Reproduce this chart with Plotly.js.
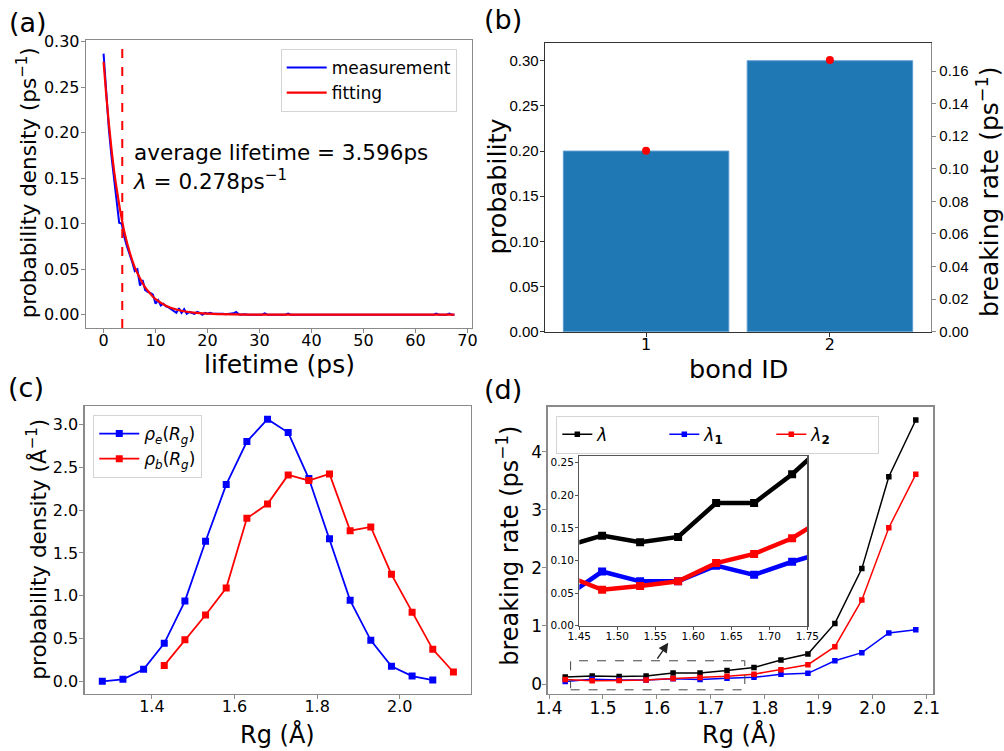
<!DOCTYPE html>
<html>
<head>
<meta charset="utf-8">
<script src="https://cdn.plot.ly/plotly-3.0.1.min.js"></script>
<style>html,body{margin:0;padding:0;background:#fff;}#chart{width:1004px;height:751px;}</style>
</head>
<body>
<div id="chart"></div>
<script>
// ---------- (a) lifetime distribution ----------
const lifetimeMeas = [0,0.5,1,1.5,2,2.5,3,3.5,4,4.5,5,5.5,6,6.5,7,7.5,8,8.5,9,9.5,10,10.5,11,11.5,12,12.5,13,13.5,14,14.5,15,15.5,16,16.5,17,17.5,18,18.5,19,19.5,20,20.5,21,21.5,22,22.5,23,23.5,24,24.5,25,25.5,26,26.5,27,28,30.5,31,31.5,35,35.5,36,63.5,64,64.5,66,66.5,67,67.5];
const densityMeas  = [0.287,0.245,0.205,0.175,0.150,0.122,0.101,0.100,0.085,0.075,0.065,0.058,0.048,0.050,0.032,0.038,0.027,0.025,0.024,0.022,0.012,0.016,0.010,0.012,0.009,0.008,0.006,0.004,0.002,0.007,0.002,0.006,0.001,0.003,0.002,0.001,0.003,0.002,0.000,0.002,0.001,0.002,0.001,0.001,0.0015,0.001,0.001,0.0005,0.001,0.001,0.0015,0.003,0.0005,0.0,0.0005,0.0,0.0,0.0015,0.0,0.0,0.0012,0.0,0.0,0.0012,0.0,0.0,0.0012,0.0,0.0];
const lifetimeFit = [0,0.5,1,1.5,2,2.5,3,3.5,4,5,6,7,8,9,10,12,14,16,18,20,25,30,40,50,67.5];
const densityFit  = [0.278,0.242,0.211,0.183,0.159,0.139,0.121,0.105,0.091,0.069,0.052,0.040,0.030,0.023,0.017,0.0099,0.0057,0.0032,0.0019,0.0011,0.0003,0.0001,0.0,0.0,0.0];
const avgLifetime = 3.596;

// ---------- (b) bonds ----------
const bondIDs = [1, 2];
const bondProbability = [0.20, 0.30];
const bondBreakingRate = [0.1111, 0.1667];

// ---------- (c) Rg distributions ----------
const rgE = [1.28,1.33,1.38,1.43,1.48,1.53,1.58,1.63,1.68,1.73,1.78,1.83,1.88,1.93,1.98,2.03,2.08];
const rhoE = [0.004,0.027,0.144,0.447,0.940,1.636,2.297,2.798,3.059,2.903,2.367,1.667,0.948,0.482,0.179,0.066,0.019];
const rgB = [1.43,1.48,1.53,1.58,1.63,1.68,1.73,1.78,1.83,1.88,1.93,1.98,2.03,2.08,2.13];
const rhoB = [0.190,0.490,0.777,1.092,1.904,2.070,2.410,2.344,2.421,1.760,1.803,1.251,0.808,0.377,0.113];

// ---------- (d) breaking rates vs Rg ----------
const rgD = [1.43,1.48,1.53,1.58,1.63,1.68,1.73,1.78,1.83,1.88,1.93,1.98,2.03,2.08];
const lambdaTot = [0.121,0.138,0.128,0.136,0.188,0.188,0.232,0.285,0.413,0.517,1.043,1.987,3.568,4.546];
const lambda1   = [0.043,0.083,0.068,0.068,0.092,0.078,0.098,0.115,0.166,0.184,0.400,0.540,0.878,0.936];
const lambda2   = [0.078,0.055,0.061,0.068,0.096,0.110,0.134,0.170,0.247,0.333,0.643,1.447,2.690,3.610];
const zoomBox = {x0: 1.44, x1: 1.763, y0: -0.10, y1: 0.40};
const arrowTail = [1.599, 0.41], arrowHead = [1.621, 0.71];

const FONT = 'DejaVu Sans';
const SPINE = '#8a8a8a';

function axisBase(extra) {
  return Object.assign({
    showline: true, mirror: true, linecolor: SPINE, linewidth: 1.3,
    ticks: 'outside', ticklen: 4, tickwidth: 1, tickcolor: SPINE,
    showgrid: false, zeroline: false, automargin: false, fixedrange: true,
    tickfont: {family: FONT, size: 16, color: '#000'}
  }, extra);
}

const traces = [
  // (a)
  {x: lifetimeMeas, y: densityMeas, xaxis: 'x', yaxis: 'y', type: 'scatter', mode: 'lines',
   name: 'measurement', line: {color: '#0000ff', width: 2}, legend: 'legend'},
  {x: lifetimeFit, y: densityFit, xaxis: 'x', yaxis: 'y', type: 'scatter', mode: 'lines',
   name: 'fitting', line: {color: '#ff0000', width: 2.2, shape: 'spline'}, legend: 'legend'},
  // (b)
  {x: bondIDs, y: bondProbability, xaxis: 'x2', yaxis: 'y2', type: 'bar', width: 0.9,
   marker: {color: '#1f77b4', line: {color: '#5a9bd0', width: 1}}, showlegend: false},
  {x: bondIDs, y: bondBreakingRate, xaxis: 'x2', yaxis: 'y3', type: 'scatter', mode: 'markers',
   marker: {color: '#ff0000', size: 8}, showlegend: false},
  // (c)
  {x: rgE, y: rhoE, xaxis: 'x3', yaxis: 'y4', type: 'scatter', mode: 'lines+markers',
   name: '<i>ρ</i><sub><i>e</i></sub>(<i>R</i><sub><i>g</i></sub>)',
   line: {color: '#0000ff', width: 1.8}, marker: {symbol: 'square', size: 7, color: '#0000ff'}, legend: 'legend2'},
  {x: rgB, y: rhoB, xaxis: 'x3', yaxis: 'y4', type: 'scatter', mode: 'lines+markers',
   name: '<i>ρ</i><sub><i>b</i></sub>(<i>R</i><sub><i>g</i></sub>)',
   line: {color: '#ff0000', width: 1.8}, marker: {symbol: 'square', size: 7, color: '#ff0000'}, legend: 'legend2'},
  // (d)
  {x: rgD, y: lambdaTot, xaxis: 'x4', yaxis: 'y5', type: 'scatter', mode: 'lines+markers',
   name: '<i>λ</i>', line: {color: '#000000', width: 1.5}, marker: {symbol: 'square', size: 5.5, color: '#000'}, legend: 'legend3'},
  {x: rgD, y: lambda1, xaxis: 'x4', yaxis: 'y5', type: 'scatter', mode: 'lines+markers',
   name: '<i>λ</i><sub><b>1</b></sub>', line: {color: '#0000ff', width: 1.5}, marker: {symbol: 'square', size: 5.5, color: '#0000ff'}, legend: 'legend3'},
  {x: rgD, y: lambda2, xaxis: 'x4', yaxis: 'y5', type: 'scatter', mode: 'lines+markers',
   name: '<i>λ</i><sub><b>2</b></sub>', line: {color: '#ff0000', width: 1.5}, marker: {symbol: 'square', size: 5.5, color: '#ff0000'}, legend: 'legend3'},
  // inset
  {x: rgD, y: lambdaTot, xaxis: 'x5', yaxis: 'y6', type: 'scatter', mode: 'lines+markers',
   line: {color: '#000000', width: 4.5}, marker: {symbol: 'square', size: 8, color: '#000'}, showlegend: false, cliponaxis: true},
  {x: rgD, y: lambda1, xaxis: 'x5', yaxis: 'y6', type: 'scatter', mode: 'lines+markers',
   line: {color: '#0000ff', width: 4.5}, marker: {symbol: 'square', size: 8, color: '#0000ff'}, showlegend: false, cliponaxis: true},
  {x: rgD, y: lambda2, xaxis: 'x5', yaxis: 'y6', type: 'scatter', mode: 'lines+markers',
   line: {color: '#ff0000', width: 4.5}, marker: {symbol: 'square', size: 8, color: '#ff0000'}, showlegend: false, cliponaxis: true}
];

function ann(text, x, y, size, opts) {
  return Object.assign({text: text, x: x, y: y, xref: 'paper', yref: 'paper', showarrow: false,
    font: {family: FONT, size: size, color: '#000'}, xanchor: 'center', yanchor: 'middle', borderpad: 0}, opts || {});
}

const legendStyle = {bgcolor: 'rgba(255,255,255,0.9)', bordercolor: '#d4d4d4', borderwidth: 1,
  font: {family: FONT, size: 17, color: '#000'}, xanchor: 'left', yanchor: 'top'};

const XSO = -6, YSO = -2;

const layout = {
  width: 1004, height: 751,
  margin: {l: 0, r: 0, t: 0, b: 0},
  paper_bgcolor: '#fff', plot_bgcolor: '#fff',
  font: {family: FONT, color: '#000'},
  showlegend: true,
  // (a)
  xaxis: axisBase({domain: [0.0857, 0.4701], anchor: 'y', range: [-3.375, 70.875], dtick: 10, tick0: 0, ticklabelstandoff: XSO}),
  yaxis: axisBase({domain: [0.5633, 0.9467], anchor: 'x', range: [-0.0146, 0.3019], dtick: 0.05, tick0: 0, tickformat: '.2f', ticklabelstandoff: YSO}),
  // (b)
  xaxis2: axisBase({domain: [0.5428, 0.9273], anchor: 'y2', range: [0.45, 2.55], tickvals: bondIDs, linecolor: '#333', tickcolor: '#333', ticklabelstandoff: XSO}),
  yaxis2: axisBase({domain: [0.5583, 0.9423], anchor: 'x2', range: [0, 0.3193], dtick: 0.05, tick0: 0, tickformat: '.2f', mirror: false,
    linecolor: '#333', tickcolor: '#333', ticklabelstandoff: YSO, tickfont: {family: 'Liberation Sans', size: 15, color: '#000'}}),
  yaxis3: axisBase({anchor: 'x2', overlaying: 'y2', side: 'right', range: [0, 0.177], dtick: 0.02, tick0: 0, tickformat: '.2f', mirror: false,
    linecolor: '#8a8a8a', tickfont: {family: 'Liberation Sans', size: 15, color: '#000'}}),
  // (c)
  xaxis3: axisBase({domain: [0.0844, 0.4691], anchor: 'y4', range: [1.2375, 2.1725], dtick: 0.2, tick0: 1.4, tickformat: '.1f', ticklabelstandoff: XSO}),
  yaxis4: axisBase({domain: [0.0763, 0.4594], anchor: 'x3', range: [-0.14, 3.213], dtick: 0.5, tick0: 0, tickformat: '.1f', ticklabelstandoff: YSO}),
  // (d)
  xaxis4: axisBase({domain: [0.5455, 0.9296], anchor: 'y5', range: [1.3975, 2.1125], dtick: 0.1, tick0: 1.4, tickformat: '.1f', ticklabelstandoff: XSO,
    tickfont: {family: FONT, size: 17, color: '#000'}}),
  yaxis5: axisBase({domain: [0.0759, 0.4585], anchor: 'x4', range: [-0.172, 4.775], dtick: 1, tick0: 0, ticklabelstandoff: -3,
    tickfont: {family: FONT, size: 17, color: '#000'}}),
  // inset
  xaxis5: axisBase({domain: [0.5770, 0.8041], anchor: 'y6', range: [1.45, 1.75], dtick: 0.05, tick0: 1.45, tickformat: '.2f', ticklabelstandoff: -3,
    linecolor: '#555', tickcolor: '#555', ticklen: 3, tickfont: {family: FONT, size: 10.5, color: '#000'}}),
  yaxis6: axisBase({domain: [0.1668, 0.3928], anchor: 'x5', range: [0, 0.26], dtick: 0.05, tick0: 0, tickformat: '.2f', ticklabelstandoff: -1,
    linecolor: '#555', tickcolor: '#555', ticklen: 3, tickfont: {family: FONT, size: 10.5, color: '#000'}}),
  legend: Object.assign({}, legendStyle, {x: 0.2796, y: 0.9348, itemwidth: 40}),
  legend2: Object.assign({}, legendStyle, {x: 0.0929, y: 0.4474, itemwidth: 40}),
  legend3: Object.assign({}, legendStyle, {x: 0.5541, y: 0.4465, orientation: 'h', entrywidth: 62, entrywidthmode: 'pixels'}),
  shapes: [
    {type: 'line', xref: 'x', yref: 'y domain', x0: avgLifetime, x1: avgLifetime, y0: 0, y1: 1,
     line: {color: '#ff0000', width: 2, dash: 'dash'}},
    {type: 'rect', xref: 'x4', yref: 'y5', x0: zoomBox.x0, x1: zoomBox.x1, y0: zoomBox.y0, y1: zoomBox.y1,
     line: {color: '#444', width: 1, dash: 'dash'}}
  ],
  annotations: [
    ann('(a)', 0.008, 0.9707, 27, {xanchor: 'left'}),
    ann('(b)', 0.481, 0.9734, 27, {xanchor: 'left'}),
    ann('(c)', 0.007, 0.4834, 27, {xanchor: 'left'}),
    ann('(d)', 0.481, 0.4807, 27, {xanchor: 'left'}),
    ann('average lifetime = 3.596ps', 0.1328, 0.7963, 21.5, {xanchor: 'left'}),
    ann('<i>λ</i> = 0.278ps<sup>−1</sup>', 0.1318, 0.7603, 21.5, {xanchor: 'left'}),
    ann('lifetime (ps)', 0.2779, 0.5140, 25),
    ann('probability density (ps<sup>−1</sup>)', 0.0269, 0.7559, 21.5, {textangle: -90}),
    ann('bond ID', 0.7354, 0.5090, 25.5),
    ann('probability', 0.4947, 0.7514, 25.5, {textangle: -90}),
    ann('breaking rate (ps<sup>−1</sup>)', 0.9845, 0.745, 25, {textangle: -90}),
    ann('Rg (Å)', 0.2764, 0.0226, 24),
    ann('probability density (Å<sup>−1</sup>)', 0.0365, 0.269, 21.5, {textangle: -90}),
    ann('Rg (Å)', 0.737, 0.0226, 24),
    ann('breaking rate (ps<sup>−1</sup>)', 0.506, 0.2732, 24, {textangle: -90}),
    {x: arrowHead[0], y: arrowHead[1], ax: arrowTail[0], ay: arrowTail[1], xref: 'x4', yref: 'y5', axref: 'x4', ayref: 'y5',
     showarrow: true, arrowhead: 2, arrowsize: 1.4, arrowwidth: 1.4, arrowcolor: '#222', text: ''}
  ]
};

Plotly.newPlot('chart', traces, layout, {staticPlot: true, displayModeBar: false});
</script>
</body>
</html>
